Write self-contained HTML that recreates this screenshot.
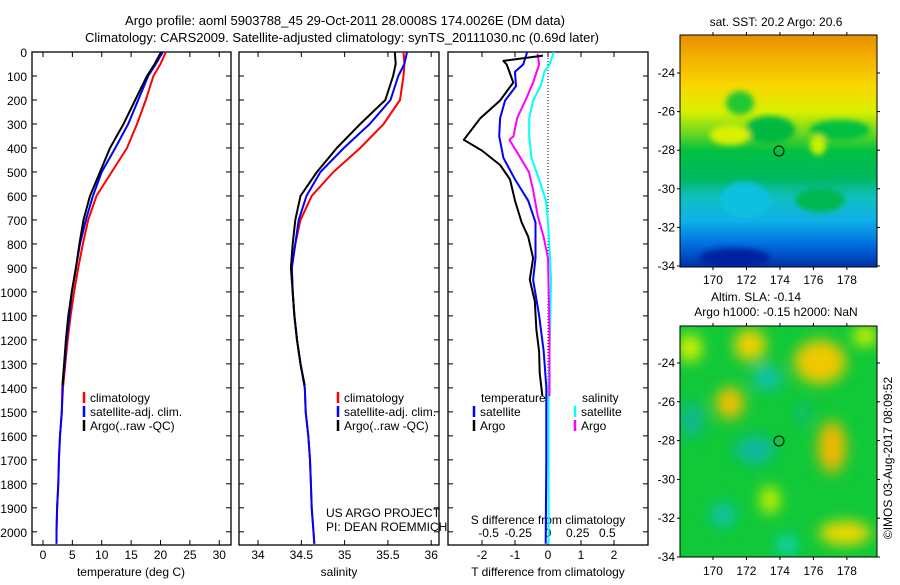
<!DOCTYPE html>
<html><head><meta charset="utf-8"><style>
body{margin:0;background:#fff}
svg text{font-family:"Liberation Sans",sans-serif;font-size:12px;fill:#000}
</style></head><body>
<svg id="fig" width="900" height="580" viewBox="0 0 900 580" xmlns="http://www.w3.org/2000/svg">
<defs>
 <clipPath id="c1"><rect x="680" y="35" width="197" height="232"/></clipPath>
 <clipPath id="c2"><rect x="680" y="326" width="197" height="231"/></clipPath>
 <filter id="bl" x="-20%" y="-20%" width="140%" height="140%"><feGaussianBlur stdDeviation="7"/></filter>
 <filter id="bl2"><feGaussianBlur stdDeviation="3"/></filter>
 <linearGradient id="sst" x1="0" y1="0" x2="0" y2="1">
  <stop offset="0" stop-color="#e89000"/><stop offset="0.1" stop-color="#f4b000"/>
  <stop offset="0.22" stop-color="#f8d800"/><stop offset="0.33" stop-color="#d8f000"/>
  <stop offset="0.42" stop-color="#70d820"/><stop offset="0.5" stop-color="#00c040"/>
  <stop offset="0.62" stop-color="#00b860"/><stop offset="0.7" stop-color="#10c0c0"/>
  <stop offset="0.8" stop-color="#10b0e8"/><stop offset="0.9" stop-color="#0070e0"/>
  <stop offset="1" stop-color="#0030a8"/>
 </linearGradient>
</defs>
<text x="345" y="25" text-anchor="middle" style="font-size:13px">Argo profile: aoml 5903788_45 29-Oct-2011 28.0008S 174.0026E (DM data)</text>
<text x="342" y="42" text-anchor="middle" style="font-size:13px">Climatology: CARS2009. Satellite-adjusted climatology: synTS_20111030.nc (0.69d later)</text>
<g id="plots"></g>

<g>
 <g clip-path="url(#c1)">
  <rect x="680" y="35" width="197" height="232" fill="url(#sst)"/>
  <g filter="url(#bl2)">
   <ellipse cx="740" cy="103" rx="14" ry="12" fill="#20c830"/>
   <ellipse cx="770" cy="130" rx="25" ry="14" fill="#00b840"/>
   <ellipse cx="840" cy="130" rx="30" ry="10" fill="#00c040"/>
   <ellipse cx="730" cy="135" rx="20" ry="10" fill="#d8f000"/>
   <ellipse cx="818" cy="145" rx="8" ry="10" fill="#c8f000"/>
   <ellipse cx="745" cy="200" rx="25" ry="18" fill="#10c0e0"/>
   <ellipse cx="820" cy="200" rx="25" ry="12" fill="#00b850"/>
   <ellipse cx="735" cy="258" rx="35" ry="10" fill="#0020a0"/>
  </g>
  <circle cx="779" cy="151" r="5" fill="none" stroke="#000"/>
 </g>
 <rect x="680" y="35" width="197" height="232" fill="none" stroke="#000"/>
 <text x="776" y="26" text-anchor="middle">sat. SST: 20.2 Argo: 20.6</text>
</g>
<g>
 <g clip-path="url(#c2)">
  <rect x="680" y="326" width="197" height="231" fill="#10c838"/>
  <g filter="url(#bl)">
   <ellipse cx="750" cy="345" rx="16" ry="16" fill="#f0d000"/>
   <ellipse cx="820" cy="362" rx="26" ry="22" fill="#f0c800"/>
   <ellipse cx="730" cy="403" rx="14" ry="16" fill="#f0c000"/>
   <ellipse cx="832" cy="447" rx="14" ry="26" fill="#f0b800"/>
   <ellipse cx="845" cy="533" rx="26" ry="12" fill="#f0d800"/>
   <ellipse cx="690" cy="348" rx="12" ry="14" fill="#d8f000"/>
   <ellipse cx="865" cy="336" rx="12" ry="10" fill="#d8f000"/>
   <ellipse cx="770" cy="500" rx="10" ry="14" fill="#c8f000"/>
   <ellipse cx="767" cy="378" rx="14" ry="12" fill="#10c0b0"/>
   <ellipse cx="755" cy="450" rx="20" ry="14" fill="#10b8a0"/>
   <ellipse cx="692" cy="420" rx="12" ry="18" fill="#10b890"/>
   <ellipse cx="723" cy="515" rx="12" ry="12" fill="#10c0b0"/>
   <ellipse cx="787" cy="545" rx="10" ry="10" fill="#10d0c0"/>
   <ellipse cx="803" cy="413" rx="6" ry="10" fill="#10b890"/>
  </g>
  <circle cx="779" cy="441" r="5" fill="none" stroke="#000"/>
 </g>
 <rect x="680" y="326" width="197" height="231" fill="none" stroke="#000"/>
 <text x="756" y="301" text-anchor="middle">Altim. SLA: -0.14</text>
 <text x="776" y="316" text-anchor="middle">Argo h1000: -0.15 h2000: NaN</text>
</g>
<text transform="translate(892,458) rotate(-90)" text-anchor="middle">©IMOS 03-Aug-2017 08:09:52</text>
<text x="326" y="517">US ARGO PROJECT</text>
<text x="326" y="531">PI: DEAN ROEMMICH</text>
</svg>
<script>
// ---- data ----
const depthLevels=[0,50,100,200,300,400,500,600,700,800,900,1000,1100,1200,1300,1400,1500,1600,1700,1800,1900,2000,2050];
const tempClim=[20.9,20.0,18.8,17.5,16.0,14.3,11.7,9.1,7.7,6.8,6.0,5.3,4.7,4.2,3.8,3.4,3.2,2.9,2.7,2.6,2.4,2.3,2.3];
const tempSat=[20.4,19.2,17.9,16.2,14.5,12.3,10.0,8.5,7.3,6.3,5.6,4.9,4.5,4.0,3.7,3.3,3.2,2.9,2.7,2.6,2.4,2.3,2.3];
const argoDepth=[0,50,100,200,300,400,500,600,700,800,900,1000,1100,1200,1300,1390];
const tempArgo=[20.1,19.0,17.7,15.7,13.7,11.4,9.7,8.0,6.9,6.2,5.6,4.9,4.3,3.9,3.6,3.3];
const salClim=[35.68,35.69,35.68,35.64,35.45,35.18,34.87,34.62,34.49,34.43,34.39,34.40,34.42,34.45,34.49,34.54,34.55,34.58,34.60,34.61,34.62,34.64,34.65];
const salSat=[35.72,35.69,35.62,35.53,35.29,34.99,34.72,34.56,34.47,34.43,34.39,34.40,34.42,34.45,34.49,34.54,34.55,34.58,34.60,34.61,34.62,34.64,34.65];
const salArgo=[35.58,35.59,35.56,35.47,35.18,34.91,34.68,34.49,34.43,34.40,34.38,34.40,34.42,34.45,34.49,34.54];
const dTdepth=[15,37,52,127,202,276,321,366,411,471,531,620,710,770,859,949,1039,1158,1248,1338,1435];
const dTargo=[-0.15,-1.35,-1.25,-1.05,-1.45,-2.05,-2.3,-2.55,-2.0,-1.45,-1.15,-1.0,-0.8,-0.6,-0.45,-0.55,-0.4,-0.35,-0.27,-0.25,-0.17];
const dSatDepth=[0,52,82,142,202,276,351,441,531,620,710,859,949,1098,1248,1397,1700,2050];
const dTsat=[-0.63,-0.75,-1.0,-0.97,-1.3,-1.45,-1.48,-1.35,-1.0,-0.6,-0.38,-0.38,-0.45,-0.27,-0.13,-0.05,-0.05,-0.07];
const dSsat=[0.05,0.0125,-0.03,-0.0625,-0.125,-0.158,-0.158,-0.14,-0.075,-0.018,0.0,0.018,0.025,0.02,0.0125,0.005,0.005,0.005];
const dSargoDepth=[7,52,127,202,276,351,366,426,501,575,680,769,859,1039,1187,1375,1435];
const dSargo=[-0.0875,-0.075,-0.125,-0.19,-0.26,-0.29,-0.325,-0.25,-0.16,-0.125,-0.0875,-0.0375,0,0.0075,0.0125,0.0125,0.0125];
const depthTicks=[0,100,200,300,400,500,600,700,800,900,1000,1100,1200,1300,1400,1500,1600,1700,1800,1900,2000];
const tempTicks=[0,5,10,15,20,25,30];
const salTicks=[34,34.5,35,35.5,36];
const dTTicks=[-2,-1,0,1,2];
const dSTicks=[-0.5,-0.25,0,0.25,0.5];
const lonTicks=[170,172,174,176,178];
const latTicks=[-24,-26,-28,-30,-32,-34];
// ---- drawing ----
const NS='http://www.w3.org/2000/svg';
const G=document.getElementById('plots');
const TOP=52,BOT=545,DMAX=2055;
const yD=d=>TOP+(BOT-TOP)*d/DMAX;
function el(tag,attrs,parent){const e=document.createElementNS(NS,tag);for(const k in attrs)e.setAttribute(k,attrs[k]);(parent||G).appendChild(e);return e;}
function scale(x0,x1,v0,v1){return v=>x0+(x1-x0)*(v-v0)/(v1-v0);}
function line(xs,ds,fx,color,name,w){
  const p=el('polyline',{points:xs.map((v,i)=>fx(v).toFixed(1)+','+yD(ds[i]).toFixed(1)).join(' '),fill:'none',stroke:color,'stroke-width':w||2,'stroke-linejoin':'round'});
  
  
}
function frame(x0,x1,name){
  const r=el('rect',{x:x0,y:TOP,width:x1-x0,height:BOT-TOP,fill:'none',stroke:'#000','stroke-width':1.3});
  
  
}
function xTicks(ticks,fx,y,labelY){
  ticks.forEach(t=>{const x=fx(t);
    el('line',{x1:x,x2:x,y1:BOT,y2:BOT-5,stroke:'#000'});
    el('line',{x1:x,x2:x,y1:TOP,y2:TOP+5,stroke:'#000'});
    const tx=el('text',{x:x,y:labelY,'text-anchor':'middle'});tx.textContent=t;
    
    
  });
}
function yTicks(x0,x1){depthTicks.forEach(d=>{const y=yD(d);
  el('line',{x1:x0,x2:x0+5,y1:y,y2:y,stroke:'#000'});el('line',{x1:x1,x2:x1-5,y1:y,y2:y,stroke:'#000'});});}
function legendEntry(x,y,color,label){
  el('line',{x1:x,x2:x,y1:y-10,y2:y+1,stroke:color,'stroke-width':2.5});
  const t=el('text',{x:x+6,y:y});t.textContent=label;
  
  
}
function label(x,y,txt,name){const t=el('text',{x:x,y:y,'text-anchor':'middle'});t.textContent=txt;
  
  }
// Panel 1 temperature
const fT=scale(32,231,-1.87,32);
frame(32,231,'temperature-panel');yTicks(32,231);
depthTicks.forEach(d=>{const t=el('text',{x:27,y:yD(d)+5,'text-anchor':'end'});t.textContent=d;
  
  });
xTicks(tempTicks,fT,BOT,559);
line(tempClim,depthLevels,fT,'#f00','temperature-climatology-line');
line(tempSat,depthLevels,fT,'#00f','temperature-satellite-line');
line(tempArgo,argoDepth,fT,'#000','temperature-argo-line');
label(131,576,'temperature (deg C)','temperature-axis-title');
legendEntry(84,402,'#f00','climatology');legendEntry(84,416,'#00f','satellite-adj. clim.');legendEntry(84,430,'#000','Argo(..raw -QC)');
// Panel 2 salinity
const fS=scale(239,439,33.78,36.09);
frame(239,439,'salinity-panel');yTicks(239,439);
xTicks(salTicks,fS,BOT,559);
line(salClim,depthLevels,fS,'#f00','salinity-climatology-line');
line(salSat,depthLevels,fS,'#00f','salinity-satellite-line');
line(salArgo,argoDepth,fS,'#000','salinity-argo-line');
label(339,576,'salinity','salinity-axis-title');
legendEntry(338,402,'#f00','climatology');legendEntry(338,416,'#00f','satellite-adj. clim.');legendEntry(338,430,'#000','Argo(..raw -QC)');
// Panel 3 differences
const fdT=scale(448,648,-3.03,3.03);
const fdS=scale(448,648,-0.8417,0.8417);
frame(448,648,'difference-panel');yTicks(448,648);
xTicks(dTTicks,fdT,BOT,559);
dSTicks.forEach(t=>{const tx=el('text',{x:fdS(t),y:537,'text-anchor':'middle'});tx.textContent=t;
  
  });
label(548,524,'S difference from climatology','s-diff-axis-title');
label(548,576,'T difference from climatology','t-diff-axis-title');
el('line',{x1:fdT(0),x2:fdT(0),y1:TOP,y2:BOT,stroke:'#000','stroke-dasharray':'1,2','stroke-width':1});
line(dSsat,dSatDepth,fdS,'#00ffff','salinity-diff-satellite-line');
line(dSargo,dSargoDepth,fdS,'#ff00ff','salinity-diff-argo-line');
line(dTsat,dSatDepth,fdT,'#00f','temperature-diff-satellite-line');
line(dTargo,dTdepth,fdT,'#000','temperature-diff-argo-line');
const lt=el('text',{x:481,y:402});lt.textContent='temperature';


const ls=el('text',{x:582,y:402});ls.textContent='salinity';


legendEntry(474,416,'#00f','satellite');legendEntry(474,430,'#000','Argo');
legendEntry(575,416,'#00ffff','satellite');legendEntry(575,430,'#ff00ff','Argo');
// Map axes
const svg=document.getElementById('fig');
function mapAxes(mapTop,mapBot,yA,yB,labY){
  const fx=scale(680,877,168.03,179.8), fy=scale(yA,yB,-24,-34);
  lonTicks.forEach(l=>{const x=fx(l);
    el('line',{x1:x,x2:x,y1:mapBot,y2:mapBot+3,stroke:'#000'},svg);el('line',{x1:x,x2:x,y1:mapTop,y2:mapTop-3,stroke:'#000'},svg);
    const t=el('text',{x:x,y:labY,'text-anchor':'middle'},svg);t.textContent=l;
    
    });
  latTicks.forEach(l=>{const y=fy(l);
    el('line',{x1:677,x2:680,y1:y,y2:y,stroke:'#000'},svg);el('line',{x1:877,x2:880,y1:y,y2:y,stroke:'#000'},svg);
    const t=el('text',{x:675,y:y+4,'text-anchor':'end'},svg);t.textContent=l;
    
    });
}
mapAxes(35,267,73,266,284);
mapAxes(326,557,363,557,575);
</script>
</body></html>
